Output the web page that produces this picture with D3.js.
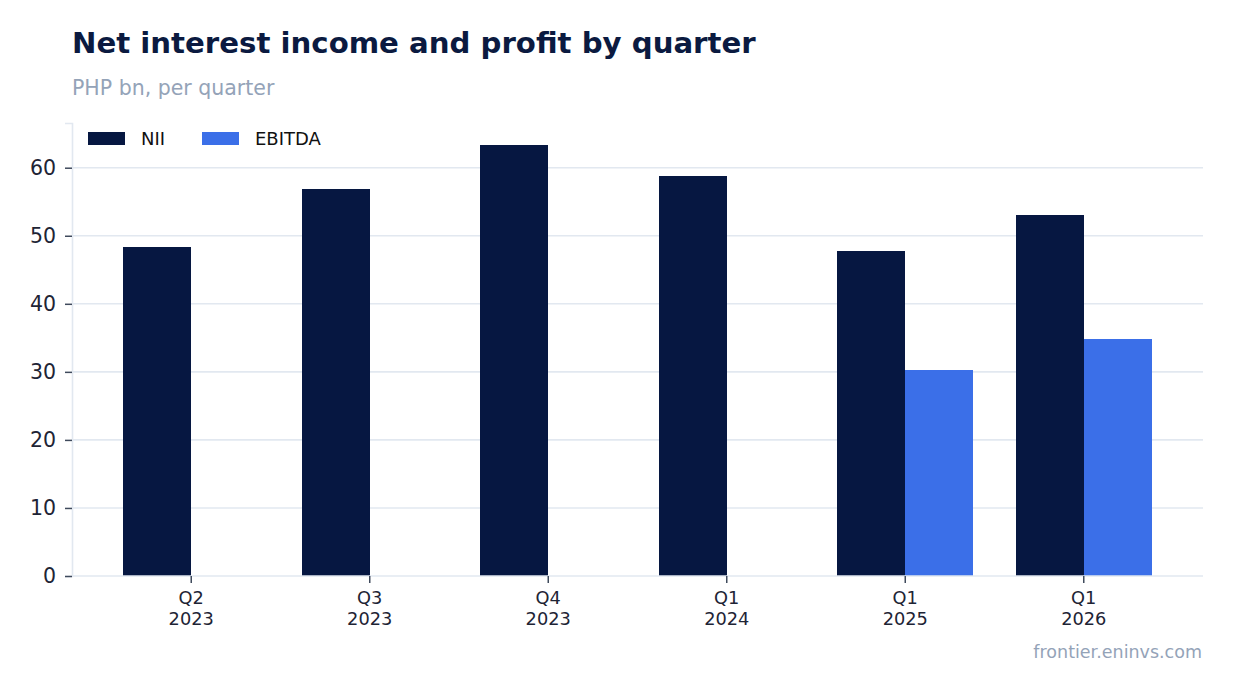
<!DOCTYPE html>
<html>
<head>
<meta charset="utf-8">
<script src="https://cdn.jsdelivr.net/npm/d3@7"></script>
<style>
  html, body { margin: 0; padding: 0; background: #fff; }
  svg { display: block; font-family: "DejaVu Sans", sans-serif; }
</style>
</head>
<body>
<svg id="chart" width="1234" height="693"></svg>
<script>
const quarters = ['Q2', 'Q3', 'Q4', 'Q1', 'Q1', 'Q1'];
const years = ['2023', '2023', '2023', '2024', '2025', '2026'];
const nii = [48.4, 56.8, 63.4, 58.8, 47.8, 53.1];
const ebitda = [null, null, null, null, 30.3, 34.8];
const seriesNames = ['NII', 'EBITDA'];
const seriesColors = ['#061741', '#3b6fe8'];
const yTicks = [0, 10, 20, 30, 40, 50, 60];

const width = 1234, height = 693;
const margin = { top: 123, right: 31, bottom: 117, left: 72 };
const svg = d3.select('#chart');

const labels = quarters.map((q, i) => `${q}\n${years[i]}`);
const rows = labels.map((l, i) => ({ key: i, label: l, values: [nii[i], ebitda[i]] }));

/*
Scales
*/
const x = d3.scaleBand(d3.range(rows.length), [margin.left, width - margin.right])
  .paddingInner(0.238)
  .paddingOuter(0.287);
const xInner = d3.scaleBand([0, 1], [0, x.bandwidth()]);
const yMax = d3.max(nii) * 1.05;
const y = d3.scaleLinear([0, yMax], [height - margin.bottom, margin.top]);

/*
Grid
*/
svg.append('g')
  .selectAll('line')
  .data(yTicks.filter(d => d > 0))
  .join('line')
  .attr('x1', margin.left)
  .attr('x2', width - margin.right)
  .attr('y1', d => y(d))
  .attr('y2', d => y(d))
  .style('stroke', '#e2e8f0')
  .style('stroke-width', 1.6);

/*
Bars
*/
svg.append('g')
  .attr('shape-rendering', 'crispEdges')
  .selectAll('g')
  .data(rows)
  .join('g')
  .attr('transform', d => `translate(${x(d.key)},0)`)
  .selectAll('rect')
  .data(d => d.values.map((v, s) => ({ v, s })).filter(c => c.v != null))
  .join('rect')
  .attr('x', d => xInner(d.s))
  .attr('width', xInner.bandwidth())
  .attr('y', d => y(d.v))
  .attr('height', d => y(0) - y(d.v))
  .style('fill', d => seriesColors[d.s]);

/*
Axes
*/
const axisLeft = svg.append('g')
  .attr('transform', `translate(${margin.left},0)`)
  .call(d3.axisLeft(y).tickValues(yTicks).tickSize(7).tickPadding(9));
axisLeft.select('.domain').style('stroke', '#e2e8f0').style('stroke-width', 1.6);
axisLeft.selectAll('.tick line').style('stroke', '#3f4a5c').style('stroke-width', 1.5);
axisLeft.selectAll('.tick text')
  .style('font-size', '20.5px')
  .style('fill', '#1e2435')
  .style('font-family', 'DejaVu Sans');

const axisBottom = svg.append('g')
  .attr('transform', `translate(0,${height - margin.bottom})`)
  .call(d3.axisBottom(x).tickSize(7).tickPadding(8).tickFormat(i => labels[i]));
axisBottom.select('.domain').style('stroke', '#e2e8f0').style('stroke-width', 1.6)
  .attr('d', `M${margin.left},0H${width - margin.right}`);
axisBottom.selectAll('.tick line').style('stroke', '#3f4a5c').style('stroke-width', 1.5);
axisBottom.selectAll('.tick text')
  .style('font-size', '17.8px')
  .style('fill', '#1e2435')
  .style('font-family', 'DejaVu Sans')
  .text(null)
  .selectAll('tspan')
  .data(i => labels[i].split('\n'))
  .join('tspan')
  .attr('x', 0)
  .attr('dy', (d, j) => j === 0 ? '0.71em' : '1.2em')
  .text(d => d);

/*
Legend
*/
const legend = svg.append('g')
  .selectAll('g')
  .data(seriesNames)
  .join('g')
  .attr('transform', (d, i) => `translate(${[88 + i * 114, 132]})`);
legend.append('rect')
  .attr('width', 37)
  .attr('height', 13)
  .style('fill', (d, i) => seriesColors[i]);
legend.append('text')
  .attr('x', 53)
  .attr('y', 13)
  .style('font-size', '18px')
  .style('fill', '#111')
  .text(d => d);

/*
Titles
*/
svg.append('text')
  .attr('x', 72)
  .attr('y', 53)
  .style('font-size', '29.2px')
  .style('font-weight', 'bold')
  .style('fill', '#0b1a40')
  .text('Net interest income and profit by quarter');

svg.append('text')
  .attr('x', 72)
  .attr('y', 95)
  .style('font-size', '20.5px')
  .style('fill', '#94a3b8')
  .text('PHP bn, per quarter');

svg.append('text')
  .attr('x', 1202)
  .attr('y', 658)
  .attr('text-anchor', 'end')
  .style('font-size', '17.5px')
  .style('fill', '#94a3b8')
  .text('frontier.eninvs.com');
</script>
</body>
</html>
